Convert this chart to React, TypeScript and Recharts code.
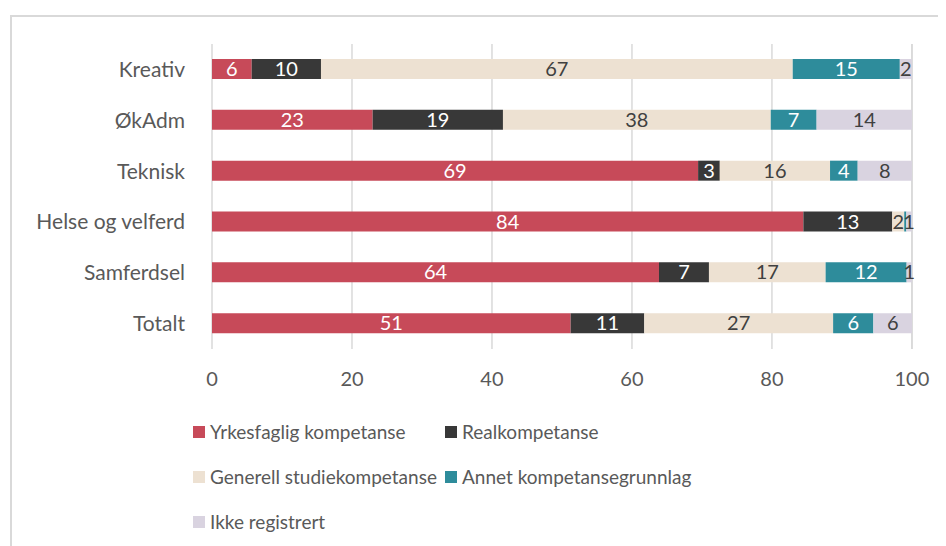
import React from "react";
import { BarChart, Bar, XAxis, YAxis, CartesianGrid, LabelList } from "recharts";

const categories = ["Kreativ", "ØkAdm", "Teknisk", "Helse og velferd", "Samferdsel", "Totalt"];
const yrkesfaglig = [5.67, 22.95, 69.45, 84.49, 63.86, 51.24];
const realkompetanse = [9.9, 18.62, 3.1, 12.7, 7.14, 10.52];
const generell = [67.4, 38.26, 15.75, 1.71, 16.67, 26.98];
const annet = [15.3, 6.55, 3.95, 0.3, 11.57, 5.75];
const ikkeRegistrert = [1.73, 13.62, 7.75, 0.8, 0.76, 5.52];
const xTicks = [0, 20, 40, 60, 80, 100];

const seriesDefs = [
  { key: "yrkes", name: "Yrkesfaglig kompetanse", color: "#C74A59", label: "#FFFFFF", values: yrkesfaglig },
  { key: "real", name: "Realkompetanse", color: "#383838", label: "#FFFFFF", values: realkompetanse },
  { key: "gen", name: "Generell studiekompetanse", color: "#EDE1D2", label: "#404040", values: generell },
  { key: "annet", name: "Annet kompetansegrunnlag", color: "#2E8C9B", label: "#FFFFFF", values: annet },
  { key: "ikke", name: "Ikke registrert", color: "#D9D3E0", label: "#404040", values: ikkeRegistrert },
];

const data = categories.map((c, i) => {
  const row: any = { name: c };
  seriesDefs.forEach((s) => (row[s.key] = s.values[i]));
  return row;
});

const FONT = "Lato, 'Open Sans', sans-serif";

const fmt = (v: any) => {
  const r = Math.round(Number(v));
  return r === 0 ? "" : String(r);
};

const LegendBlock = () => {
  const rows = [
    [seriesDefs[0], seriesDefs[1]],
    [seriesDefs[2], seriesDefs[3]],
    [seriesDefs[4]],
  ];
  return (
    <div style={{ fontFamily: FONT, fontSize: 19, color: "#595959" }}>
      {rows.map((r, ri) => (
        <div key={ri} style={{ display: "flex", height: 45, alignItems: "center" }}>
          {r.map((s, si) => (
            <div key={s.key} style={{ display: "flex", alignItems: "center", width: si === 0 ? 252 : 330 }}>
              <span style={{ display: "inline-block", width: 12, height: 12, background: s.color, marginRight: 5 }} />
              <span>{s.name}</span>
            </div>
          ))}
        </div>
      ))}
    </div>
  );
};

export default function App() {
  return (
    <div style={{ position: "relative", width: 938, height: 538, overflow: "hidden" }}>
      <div
        style={{
          position: "absolute",
          left: 2,
          top: 7,
          width: 1000,
          height: 1000,
          borderLeft: "2px solid #D9D9D9",
          borderTop: "2px solid #D9D9D9",
        }}
      />
      <div style={{ position: "absolute", left: 0, top: 0 }}>
        <BarChart
          width={930}
          height={400}
          data={data}
          layout="vertical"
          margin={{ top: 36, right: 26, bottom: 29, left: 0 }}
          barSize={20}
        >
          <CartesianGrid horizontal={false} stroke="#D9D9D9" strokeWidth={1.5} />
          <XAxis
            type="number"
            domain={[0, 100]}
            ticks={xTicks}
            axisLine={false}
            tickLine={false}
            tickSize={0}
            tickMargin={23}
            height={30}
            tick={{ fill: "#595959", fontSize: 20, fontFamily: FONT }}
          />
          <YAxis
            type="category"
            dataKey="name"
            width={204}
            axisLine={false}
            tickLine={false}
            tickSize={0}
            tickMargin={27}
            tick={{ fill: "#595959", fontSize: 21, fontFamily: FONT }}
          />
          {seriesDefs.map((s) => (
            <Bar key={s.key} dataKey={s.key} name={s.name} stackId="a" fill={s.color} isAnimationActive={false}>
              <LabelList
                dataKey={s.key}
                position="center"
                formatter={fmt}
                style={{ fill: s.label, fontSize: 20, fontFamily: FONT }}
              />
            </Bar>
          ))}
        </BarChart>
      </div>
      <div style={{ position: "absolute", left: 185, top: 401 }}>
        <LegendBlock />
      </div>
    </div>
  );
}
